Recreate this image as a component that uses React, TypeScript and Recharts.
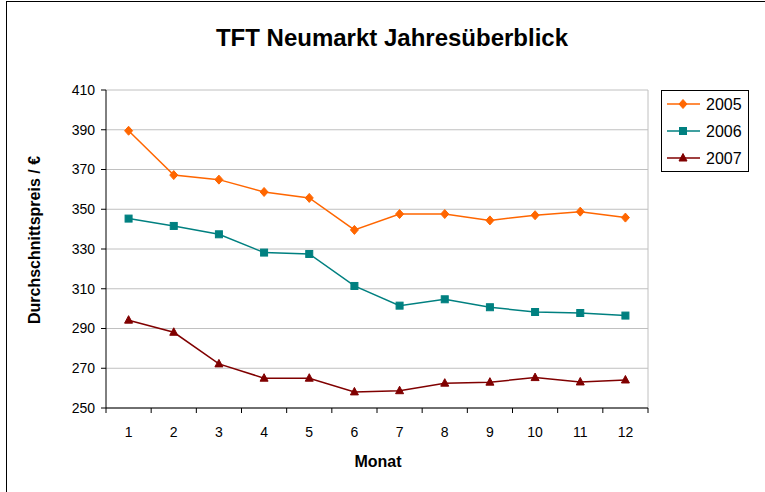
import { LineChart, Line, XAxis, YAxis, CartesianGrid, ReferenceLine } from 'recharts';

const months = [1, 2, 3, 4, 5, 6, 7, 8, 9, 10, 11, 12];
const y2005 = [389.5, 367.2, 364.9, 358.7, 355.7, 339.6, 347.6, 347.6, 344.4, 347.0, 348.8, 345.8];
const y2006 = [345.3, 341.6, 337.4, 328.2, 327.5, 311.4, 301.5, 304.7, 300.7, 298.3, 297.8, 296.5];
const y2007 = [294.2, 288.1, 272.2, 265.0, 265.0, 258.1, 258.7, 262.5, 263.0, 265.3, 263.1, 264.1];
const yTicks = [250, 270, 290, 310, 330, 350, 370, 390, 410];

const data = months.map((m, i) => ({ month: m, a: y2005[i], b: y2006[i], c: y2007[i] }));

const FONT = 'Arial, "Liberation Sans", sans-serif';
const ORANGE = '#FF6600';
const TEAL = '#008080';
const RED = '#800000';

// plot area is 542 wide, 12 categories
const HALF = 542 / 24;

const diamond = (cx: number, cy: number, c: string, key?: any) => (
  <path key={key} d={`M${cx},${cy - 4.5}L${cx + 4},${cy}L${cx},${cy + 4.5}L${cx - 4},${cy}Z`} fill={c} stroke={c} />
);
const square = (cx: number, cy: number, c: string, key?: any) => (
  <rect key={key} x={cx - 3.5} y={cy - 3.5} width={7} height={7} fill={c} stroke={c} />
);
const triangle = (cx: number, cy: number, c: string, key?: any) => (
  <path key={key} d={`M${cx},${cy - 4.5}L${cx + 4},${cy + 3}L${cx - 4},${cy + 3}Z`} fill={c} stroke={c} />
);

const MonthTick = (props: any) => {
  const { x, y, payload, index } = props;
  return (
    <g>
      <line x1={x - HALF} x2={x - HALF} y1={y - 5} y2={y} stroke="#000" />
      {index === months.length - 1 && <line x1={x + HALF} x2={x + HALF} y1={y - 5} y2={y} stroke="#000" />}
      <text x={x} y={y + 24} textAnchor="middle" fontSize={14} fontFamily={FONT} fill="#000">
        {payload.value}
      </text>
    </g>
  );
};

const series = [
  { name: '2005', color: ORANGE, mark: diamond },
  { name: '2006', color: TEAL, mark: square },
  { name: '2007', color: RED, mark: triangle },
];

const LegendBox = () => (
  <svg width={88} height={82} style={{ display: 'block' }}>
    <rect x={0.5} y={0.5} width={87} height={81} fill="#fff" stroke="#000" />
    {series.map((s, i) => {
      const cy = 14 + i * 27;
      return (
        <g key={s.name}>
          <line x1={6} x2={39} y1={cy} y2={cy} stroke={s.color} strokeWidth={1.5} />
          {s.mark(22, cy, s.color)}
          <text x={45} y={cy + 6} fontSize={16} fontFamily={FONT} fill="#000">
            {s.name}
          </text>
        </g>
      );
    })}
  </svg>
);

export default function App() {
  return (
    <div style={{ position: 'absolute', left: 0, top: 0, width: 765, height: 492, overflow: 'hidden', background: '#fff' }}>
      <div style={{ position: 'absolute', left: 6, top: 1, width: 900, height: 700, borderLeft: '1px solid #000', borderTop: '1px solid #000' }} />
      <LineChart width={765} height={492} data={data} margin={{ top: 90, right: 117, bottom: 54, left: 46 }}>
        <CartesianGrid vertical={false} stroke="#c0c0c0" />
        <ReferenceLine x={12.5} stroke="#c0c0c0" />
        <XAxis
          dataKey="month"
          type="number"
          domain={[0.5, 12.5]}
          ticks={months}
          height={30}
          tickLine={false}
          tickSize={5}
          tickMargin={0}
          axisLine={{ stroke: '#000' }}
          tick={<MonthTick />}
        />
        <YAxis
          domain={[250, 410]}
          ticks={yTicks}
          width={60}
          tickSize={5}
          tickMargin={6}
          axisLine={{ stroke: '#000' }}
          tickLine={{ stroke: '#000' }}
          tick={{ fill: '#000', fontSize: 14, fontFamily: FONT }}
        />
        <Line dataKey="a" name="2005" stroke={ORANGE} strokeWidth={1.5} isAnimationActive={false}
          dot={(p: any) => diamond(p.cx, p.cy, ORANGE, p.index)} />
        <Line dataKey="b" name="2006" stroke={TEAL} strokeWidth={1.5} isAnimationActive={false}
          dot={(p: any) => square(p.cx, p.cy, TEAL, p.index)} />
        <Line dataKey="c" name="2007" stroke={RED} strokeWidth={1.5} isAnimationActive={false}
          dot={(p: any) => triangle(p.cx, p.cy, RED, p.index)} />
      </LineChart>
      <div style={{ position: 'absolute', left: 661, top: 90 }}>
        <LegendBox />
      </div>
      <svg width={765} height={492} style={{ position: 'absolute', left: 0, top: 0, pointerEvents: 'none' }}>
        <text x={392} y={46} textAnchor="middle" fontSize={24} fontWeight="bold" fontFamily={FONT} fill="#000">
          TFT Neumarkt Jahresüberblick
        </text>
        <text x={40} y={240} transform="rotate(-90 40 240)" textAnchor="middle" fontSize={16} fontWeight="bold" fontFamily={FONT} fill="#000">
          Durchschnittspreis / €
        </text>
        <text x={378} y={467} textAnchor="middle" fontSize={16} fontWeight="bold" fontFamily={FONT} fill="#000">
          Monat
        </text>
      </svg>
    </div>
  );
}
